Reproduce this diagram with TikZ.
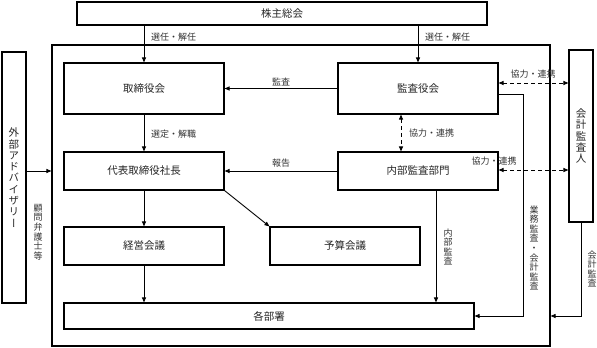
\documentclass[tikz,border=0pt]{standalone}
\usepackage{fontspec}
\setmainfont{Noto Sans CJK JP}
\newfontfamily\vjp[RawFeature=+vert]{Noto Sans CJK JP}
\usetikzlibrary{arrows.meta,calc}
\begin{document}
\begin{tikzpicture}[x=1pt,y=-1pt,
  box/.style={draw, line width=1.1pt, inner sep=0pt, font=\fontsize{10.5}{12}\selectfont, text=black!85},
  lab/.style={font=\fontsize{9}{10}\selectfont, inner sep=0pt, text=black!80},
  vlab/.style={font=\vjp\fontsize{9}{9.6}\selectfont, align=center, inner sep=0pt, text=black!80},
  vbig/.style={font=\vjp\fontsize{10.5}{11.3}\selectfont, align=center, inner sep=0pt, text=black!85},
  arr/.style={line width=0.9pt, -{Triangle[length=5pt,width=4pt]}},
  darr/.style={line width=0.9pt, dash pattern=on 4pt off 3pt, {Triangle[length=5pt,width=4pt]}-{Triangle[length=5pt,width=4pt]}},
  ln/.style={line width=0.9pt}]
\useasboundingbox (0,0) rectangle (597,348);
\fill[white] (0,0) rectangle (597,348);
% frame
\node[draw, line width=1.1pt, minimum width=498pt, minimum height=301pt, inner sep=0pt] (frame) at (301,195.5) {};
% boxes
\node[box, minimum width=410pt, minimum height=23pt] (kabu) at (282,13.5) {株主総会};
\node[box, minimum width=160pt, minimum height=51pt] (tori) at (144,88.5) {取締役会};
\node[box, minimum width=160pt, minimum height=51pt] (kansa) at (418,88.5) {監査役会};
\node[box, minimum width=160pt, minimum height=38pt] (daihyo) at (144,171) {代表取締役社長};
\node[box, minimum width=160pt, minimum height=38pt] (naibu) at (418,171) {内部監査部門};
\node[box, minimum width=160pt, minimum height=38pt] (keiei) at (144,246) {経営会議};
\node[box, minimum width=150pt, minimum height=38pt] (yosan) at (345,246) {予算会議};
\node[box, minimum width=410pt, minimum height=26pt] (kaku) at (269,316) {各部署};
\node[box, minimum width=24pt, minimum height=251pt] (gaibu) at (14,177.5) {};
\node[box, minimum width=24pt, minimum height=172pt] (kaikei) at (581,136) {};
\node[vbig] (gaibut) at (gaibu) {外\\部\\ア\\ド\\バ\\イ\\ザ\\リ\\ー};
\node[vbig] (kaikeit) at (kaikei) {会\\計\\監\\査\\人};
% helper coordinates
\coordinate (ka1) at ($(kansa.south)+(-17,0)$);
\coordinate (na1) at ($(naibu.north)+(-17,0)$);
\coordinate (na2) at ($(naibu.south)+(18,0)$);
\coordinate (ka2) at ($(kansa.east)+(0,5.5)$);
\coordinate (ka3) at ($(kansa.east)+(0,-5.5)$);
\coordinate (na3) at ($(naibu.east)+(0,-1)$);
\coordinate (c1) at ($(kaku.east)+(49,0)$);
% connectors
\draw[arr] (kabu.south -| tori.north) -- (tori.north);
\draw[arr] (kabu.south -| kansa.north) -- (kansa.north);
\draw[arr] (kansa.west) -- (tori.east);
\draw[arr] (tori.south) -- (daihyo.north);
\draw[arr] (naibu.west) -- (daihyo.east);
\draw[arr] (daihyo.south) -- (keiei.north);
\draw[arr] (keiei.south) -- (kaku.north -| keiei.south);
\draw[arr] (daihyo.south east) -- (yosan.north west);
\draw[darr] (ka1) -- (na1);
\draw[arr] (na2) -- (kaku.north -| na2);
\draw[arr] (ka2) -| (c1) -- (kaku.east);
\draw[arr] (kaikei.south) |- (kaku.east -| frame.east);
\draw[arr] (gaibu.east |- daihyo.center) -- (frame.west |- daihyo.center);
\draw[darr] (ka3) -- (kaikei.west |- ka3);
\draw[darr] (na3) -- (kaikei.west |- na3);
% labels
\node[lab, anchor=west] (l1) at (151,37) {選任・解任};
\node[lab, anchor=west] (l2) at (425,37) {選任・解任};
\node[lab] (l3) at (281,82) {監査};
\node[lab] (l4) at (281,163) {報告};
\node[lab, anchor=west] (l5) at (151,134) {選定・解職};
\node[lab, anchor=west] (l6) at (409,133) {協力・連携};
\node[lab] (l7) at (533,74) {協力・連携};
\node[lab] (l8) at (494,161) {協力・連携};
\node[vlab] (l9) at (448,247) {内\\部\\監\\査};
\node[vlab] (l10) at (534,248) {業\\務\\監\\査\\・\\会\\計\\監\\査};
\node[vlab] (l11) at (592,269) {会\\計\\監\\査};
\node[vlab] (l12) at (38,232) {顧\\問\\弁\\護\\士\\等};
\end{tikzpicture}
\end{document}
